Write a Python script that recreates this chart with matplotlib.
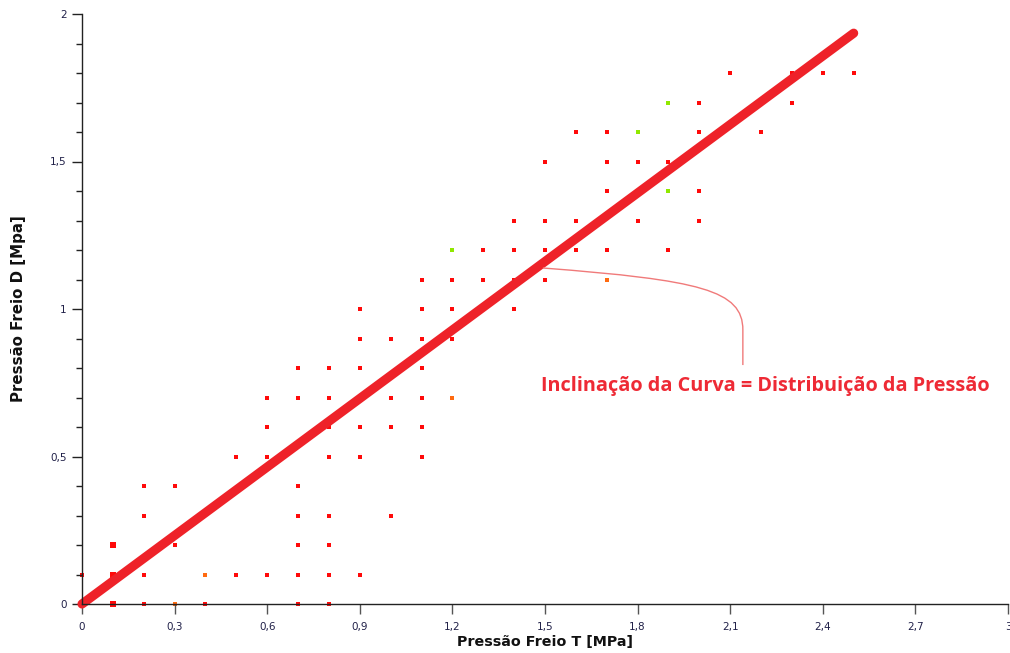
import matplotlib
matplotlib.use('Agg')
import matplotlib.pyplot as plt
from matplotlib.path import Path
from matplotlib.patches import PathPatch
from matplotlib.ticker import FuncFormatter, MultipleLocator

# ---- data ----
line_x = [0.0, 2.5]
line_y = [0.0, 1.935]

red_x = [0.2, 0.4, 0.7, 0.8,
         0.0, 0.2, 0.5, 0.6, 0.7, 0.8, 0.9,
         0.3, 0.7, 0.8,
         0.2, 0.7, 0.8, 1.0,
         0.2, 0.3, 0.7,
         0.5, 0.6, 0.8, 0.9, 1.1,
         0.6, 0.8, 0.9, 1.0, 1.1,
         0.6, 0.7, 0.8, 1.0, 1.1,
         0.7, 0.8, 0.9, 1.1,
         0.9, 1.0, 1.1, 1.2,
         0.9, 1.1, 1.2, 1.4,
         1.1, 1.2, 1.3, 1.4, 1.5,
         1.3, 1.4, 1.5, 1.6, 1.7, 1.9,
         1.4, 1.5, 1.6, 1.8, 2.0,
         1.7, 2.0,
         1.5, 1.7, 1.8, 1.9,
         1.6, 1.7, 2.0, 2.2,
         2.0, 2.3,
         2.1, 2.3, 2.4, 2.5]
red_y = [0.0, 0.0, 0.0, 0.0,
         0.1, 0.1, 0.1, 0.1, 0.1, 0.1, 0.1,
         0.2, 0.2, 0.2,
         0.3, 0.3, 0.3, 0.3,
         0.4, 0.4, 0.4,
         0.5, 0.5, 0.5, 0.5, 0.5,
         0.6, 0.6, 0.6, 0.6, 0.6,
         0.7, 0.7, 0.7, 0.7, 0.7,
         0.8, 0.8, 0.8, 0.8,
         0.9, 0.9, 0.9, 0.9,
         1.0, 1.0, 1.0, 1.0,
         1.1, 1.1, 1.1, 1.1, 1.1,
         1.2, 1.2, 1.2, 1.2, 1.2, 1.2,
         1.3, 1.3, 1.3, 1.3, 1.3,
         1.4, 1.4,
         1.5, 1.5, 1.5, 1.5,
         1.6, 1.6, 1.6, 1.6,
         1.7, 1.7,
         1.8, 1.8, 1.8, 1.8]

big_x = [0.1, 0.1, 0.1]
big_y = [0.0, 0.1, 0.2]

orange_x = [0.3, 0.4, 1.2, 1.7]
orange_y = [0.0, 0.1, 0.7, 1.1]

green_x = [1.2, 1.9, 1.8, 1.9]
green_y = [1.2, 1.4, 1.6, 1.7]

x_ticks = [0, 0.3, 0.6, 0.9, 1.2, 1.5, 1.8, 2.1, 2.4, 2.7, 3.0]
y_ticks = [0, 0.5, 1.0, 1.5, 2.0]

x_label = "Pressão Freio T [MPa]"
y_label = "Pressão Freio D [Mpa]"
note_text = "Inclinação da Curva = Distribuição da Pressão"

# ---- figure ----
fig = plt.figure(figsize=(10.1, 6.53), dpi=100)
ax = fig.add_axes([82/1010, 49/653, 926/1010, 590/653])
ax.set_xlim(0, 3)
ax.set_ylim(0, 2)

ax.scatter(red_x, red_y, s=5, marker='s', color='#ff0a0a', linewidths=0, zorder=1, clip_on=False)
ax.scatter(big_x, big_y, s=13, marker='s', color='#ff0a0a', linewidths=0, zorder=1, clip_on=False)
ax.scatter(orange_x, orange_y, s=5, marker='s', color='#ff6a10', linewidths=0, zorder=1, clip_on=False)
ax.scatter(green_x, green_y, s=5, marker='s', color='#90e800', linewidths=0, zorder=1, clip_on=False)

ax.plot(line_x, line_y, color='#ee2229', lw=6.6, solid_capstyle='round', zorder=2, clip_on=False)

# annotation curve
verts = [(1.493, 1.139), (2.002, 1.098), (2.141, 1.064), (2.141, 0.929), (2.141, 0.810)]
codes = [Path.MOVETO, Path.CURVE4, Path.CURVE4, Path.CURVE4, Path.LINETO]
ax.add_patch(PathPatch(Path(verts, codes), facecolor='none', edgecolor='#f07a7a', lw=1.0, zorder=3))
ax.text(2.2125, 0.739, note_text, color='#ee2a35', fontsize=14.3, fontweight='bold',
        family=['Open Sans', 'DejaVu Sans'], ha='center', va='center', zorder=4)

fmt = FuncFormatter(lambda v, p: ('%g' % round(v, 1)).replace('.', ','))
ax.set_xticks(x_ticks)
ax.set_yticks(y_ticks)
ax.xaxis.set_major_formatter(fmt)
ax.yaxis.set_major_formatter(fmt)
ax.yaxis.set_minor_locator(MultipleLocator(0.1))

for s in ['top', 'right']:
    ax.spines[s].set_visible(False)
for s in ['left', 'bottom']:
    ax.spines[s].set_color('#222222')
    ax.spines[s].set_linewidth(1)

ax.tick_params(axis='x', which='major', length=7, width=1, pad=6, labelsize=7.5, labelcolor='#202048', color='#555555')
ax.tick_params(axis='y', which='major', length=7, width=1, pad=4, labelsize=7.5, labelcolor='#202048', color='#222222')
ax.tick_params(axis='y', which='minor', length=4, width=1, color='#222222')

ax.set_xlabel(x_label, fontsize=10.3, fontweight='bold', color='#111111', labelpad=2)
ax.set_ylabel(y_label, fontsize=10.8, fontweight='bold', color='#111111', labelpad=17)

fig.savefig('out.png', dpi=100)
